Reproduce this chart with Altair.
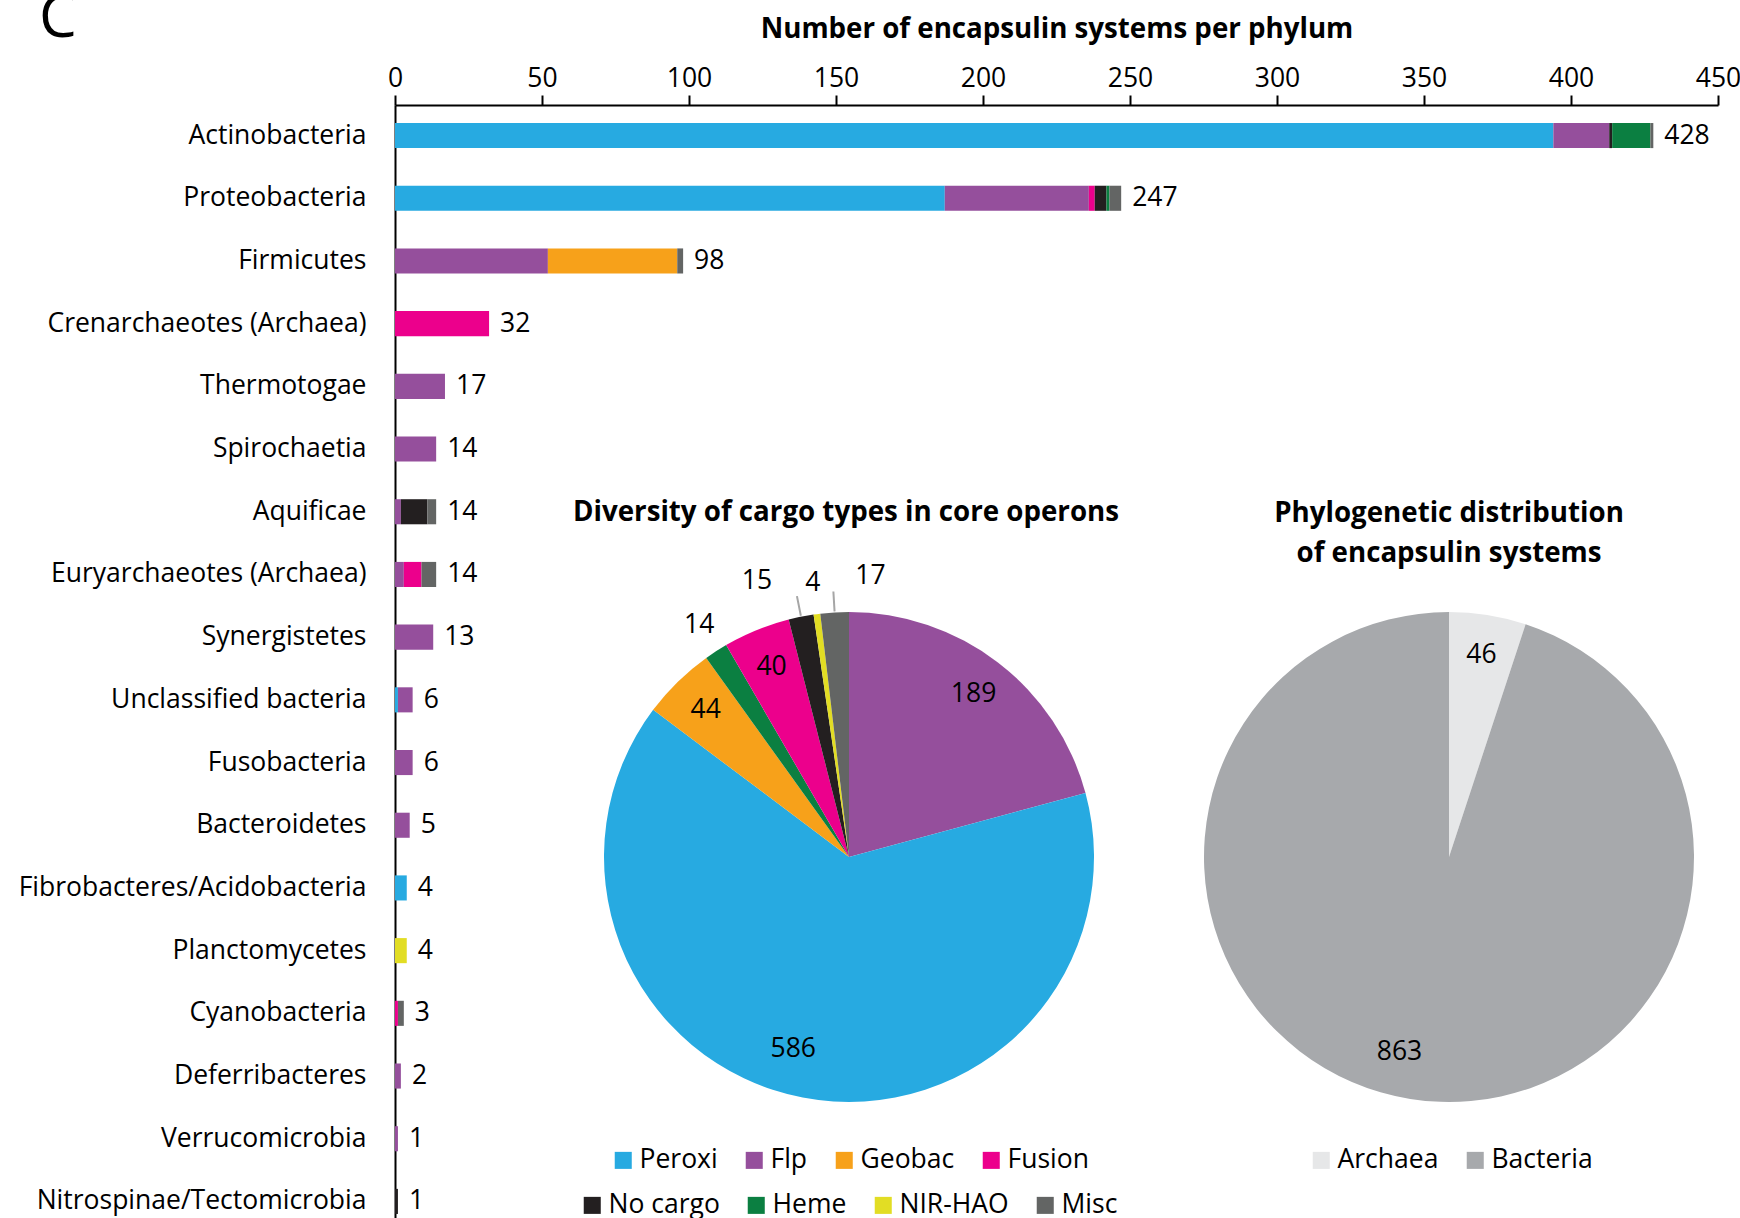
import altair as alt
import pandas as pd

# ---------------- data ----------------
phyla = ["Actinobacteria", "Proteobacteria", "Firmicutes", "Crenarchaeotes (Archaea)",
         "Thermotogae", "Spirochaetia", "Aquificae", "Euryarchaeotes (Archaea)",
         "Synergistetes", "Unclassified bacteria", "Fusobacteria", "Bacteroidetes",
         "Fibrobacteres/Acidobacteria", "Planctomycetes", "Cyanobacteria",
         "Deferribacteres", "Verrucomicrobia", "Nitrospinae/Tectomicrobia"]
totals = [428, 247, 98, 32, 17, 14, 14, 14, 13, 6, 6, 5, 4, 4, 3, 2, 1, 1]

cargo_types = ["Peroxi", "Flp", "Geobac", "Fusion", "No cargo", "Heme", "NIR-HAO", "Misc"]
cargo_colors = ["#27AAE1", "#954F9C", "#F7A11A", "#EC008C", "#231F20", "#0B7F41", "#E2DD24", "#636564"]

peroxi   = [394, 187, 0, 0, 0, 0, 0, 0, 0, 1, 0, 0, 4, 0, 0, 0, 0, 0]
flp      = [19, 49, 52, 0, 17, 14, 2, 3, 13, 5, 6, 5, 0, 0, 0, 2, 1, 0]
geobac   = [0, 0, 44, 0, 0, 0, 0, 0, 0, 0, 0, 0, 0, 0, 0, 0, 0, 0]
fusion   = [0, 2, 0, 32, 0, 0, 0, 6, 0, 0, 0, 0, 0, 0, 1, 0, 0, 0]
no_cargo = [1, 4, 0, 0, 0, 0, 9, 0, 0, 0, 0, 0, 0, 0, 0, 0, 0, 1]
heme     = [13, 1, 0, 0, 0, 0, 0, 0, 0, 0, 0, 0, 0, 0, 0, 0, 0, 0]
nir_hao  = [0, 0, 0, 0, 0, 0, 0, 0, 0, 0, 0, 0, 0, 4, 0, 0, 0, 0]
misc     = [1, 4, 2, 0, 0, 0, 3, 5, 0, 0, 0, 0, 0, 0, 2, 0, 0, 0]

pie_cargo = ["Flp", "Peroxi", "Geobac", "Heme", "Fusion", "No cargo", "NIR-HAO", "Misc"]
pie_counts = [189, 586, 44, 14, 40, 15, 4, 17]

domains = ["Archaea", "Bacteria"]
domain_counts = [46, 863]
domain_colors = ["#E6E7E8", "#A7A9AC"]

# ---------------- tables ----------------
series = dict(zip(cargo_types, [peroxi, flp, geobac, fusion, no_cargo, heme, nir_hao, misc]))
rows = []
for k, c in enumerate(cargo_types):
    for p, v in zip(phyla, series[c]):
        if v > 0:
            rows.append({"phylum": p, "cargo": c, "n": v, "k": k})
bar_df = pd.DataFrame(rows)
tot_df = pd.DataFrame({"phylum": phyla, "total": totals})
pie_df = pd.DataFrame({"cargo": pie_cargo, "n": pie_counts, "o": list(range(len(pie_cargo)))})
dom_df = pd.DataFrame({"domain": domains, "n": domain_counts, "o": [0, 1]})

# ---------------- styling ----------------
FONT = "Open Sans"
FS = 26.5
TFS = 27.7
W, H = 1323, 1113
PL, PT = 395, 105
C1X, C2X, CY, R = 454, 1054, 752, 245

x_scale = alt.Scale(domain=[0, 450], nice=False, zero=True)
y_scale = alt.Scale(domain=phyla, paddingInner=0.6, paddingOuter=0.176, align=0.817, round=False)
cargo_scale = alt.Scale(domain=cargo_types, range=cargo_colors)

x_axis = alt.Axis(orient="top", values=list(range(0, 451, 50)),
                  title="Number of encapsulin systems per phylum",
                  titleFont=FONT, titleFontSize=TFS, titleFontWeight="bold", titleColor="black",
                  titleBaseline="alphabetic", titleY=-68, titleX=W / 2, titleAnchor="middle",
                  labelFont=FONT, labelFontSize=FS, labelColor="black", labelPadding=3,
                  domainColor="black", domainWidth=2, tickColor="black", tickWidth=2,
                  tickSize=10, grid=False, labelFlush=False)
y_axis = alt.Axis(title=None, ticks=False, tickSize=0, labelPadding=29,
                  labelFont=FONT, labelFontSize=FS, labelColor="black",
                  domainColor="black", domainWidth=2, grid=False, labelLimit=500)

def leg(values, lx, ly):
    return alt.Legend(values=values, orient="none", legendX=lx, legendY=ly, direction="horizontal",
                      title=None, symbolType="square", symbolSize=290, symbolStrokeWidth=0,
                      labelFont=FONT, labelFontSize=FS, labelColor="black", labelOffset=3,
                      columnPadding=23, padding=0, labelLimit=400)

bars = alt.Chart(bar_df).mark_bar().encode(
    x=alt.X("n:Q", stack="zero", scale=x_scale, axis=x_axis),
    y=alt.Y("phylum:N", scale=y_scale, axis=y_axis),
    color=alt.Color("cargo:N", scale=cargo_scale,
                    legend=leg(["No cargo", "Heme", "NIR-HAO", "Misc"], 184, 1087)),
    order=alt.Order("k:Q"),
)

bar_text = alt.Chart(tot_df).mark_text(align="left", baseline="middle", dx=11, font=FONT,
                                       fontSize=FS, color="black").encode(
    x=alt.X("total:Q", scale=x_scale, axis=x_axis),
    y=alt.Y("phylum:N", scale=y_scale, axis=y_axis),
    text=alt.Text("total:Q"),
)

pie1 = alt.Chart(pie_df).mark_arc(radius=R).encode(
    theta=alt.Theta("n:Q", stack=True),
    order=alt.Order("o:Q"),
    color=alt.Color("cargo:N", scale=cargo_scale,
                    legend=leg(["Peroxi", "Flp", "Geobac", "Fusion"], 215, 1042)),
    x=alt.value(C1X), y=alt.value(CY),
)

# leader lines (degenerate arcs drawn as radial strokes)
leaders = alt.Chart(pie_df).mark_arc(radius=266, innerRadius=R + 1, padAngle=0.6,
                                     fillOpacity=0, stroke="#A6A6A6", strokeWidth=2).encode(
    theta=alt.Theta("n:Q", stack=True),
    order=alt.Order("o:Q"),
    strokeOpacity=alt.condition("datum.cargo == 'No cargo' || datum.cargo == 'Misc'",
                                alt.value(1), alt.value(0)),
    x=alt.value(C1X), y=alt.value(CY),
)

def pie_text(df, expr, radius, cx, dx=0, dy=0):
    return alt.Chart(df).transform_calculate(lab=expr).mark_text(
        radius=radius, dx=dx, dy=dy, font=FONT, fontSize=FS, color="black",
        baseline="middle", align="center"
    ).encode(
        theta=alt.Theta("n:Q", stack=True),
        order=alt.Order("o:Q"),
        text=alt.Text("lab:N"),
        x=alt.value(cx), y=alt.value(CY),
    )

p1_in = pie_text(pie_df, "datum.n >= 40 && datum.n < 500 ? '' + datum.n : ''", 205, C1X)
p1_big = pie_text(pie_df, "datum.n >= 500 ? '' + datum.n : ''", 205, C1X, -17, -9)
p1_out = pie_text(pie_df, "(datum.cargo == 'Heme' || datum.cargo == 'NIR-HAO') ? '' + datum.n : ''", 276, C1X)
p1_left = pie_text(pie_df, "datum.cargo == 'No cargo' ? '' + datum.n : ''", 281, C1X, -37)
p1_right = pie_text(pie_df, "datum.cargo == 'Misc' ? '' + datum.n : ''", 281, C1X, 38)

pie2 = alt.Chart(dom_df).mark_arc(radius=R).encode(
    theta=alt.Theta("n:Q", stack=True),
    order=alt.Order("o:Q"),
    color=alt.Color("domain:N", scale=alt.Scale(domain=domains, range=domain_colors),
                    legend=leg(domains, 913, 1042)),
    x=alt.value(C2X), y=alt.value(CY),
)
p2_small = pie_text(dom_df, "datum.n < 500 ? '' + datum.n : ''", 205, C2X)
p2_big = pie_text(dom_df, "datum.n >= 500 ? '' + datum.n : ''", 205, C2X, -17, -7)

def label(s, x, y, size=TFS, weight="bold", align="center"):
    return alt.Chart(alt.Data(values=[{}])).mark_text(
        font=FONT, fontSize=size, fontWeight=weight, color="black", align=align, baseline="alphabetic"
    ).encode(text=alt.value(s), x=alt.value(x), y=alt.value(y))

t1 = label("Diversity of cargo types in core operons", 451, 416)
t2a = label("Phylogenetic distribution", C2X, 417)
t2b = label("of encapsulin systems", C2X, 457)
letter = label("C", -356, -68, size=60, weight="normal", align="left")

chart = alt.layer(bars, bar_text, pie1, leaders, p1_in, p1_big, p1_out, p1_left, p1_right,
                  pie2, p2_small, p2_big, t1, t2a, t2b, letter).resolve_scale(
    theta="independent", color="independent"
).properties(
    width=W, height=H,
    autosize=alt.AutoSizeParams(type="none"),
    padding={"left": PL, "top": PT, "right": 1740 - PL - W, "bottom": 0},
    background="white",
).configure_view(stroke=None)

chart.save("out.html", embed_options={"renderer": "svg", "actions": False})
